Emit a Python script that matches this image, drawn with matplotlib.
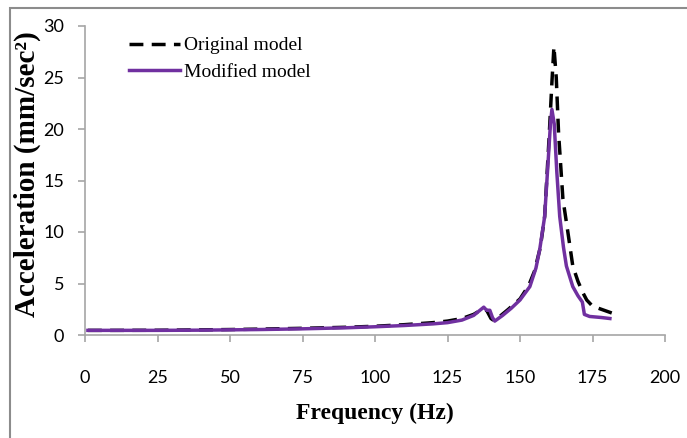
import matplotlib
matplotlib.use("Agg")
import matplotlib.pyplot as plt
from matplotlib.patches import Rectangle

# frequency (Hz) / acceleration (mm/sec^2)
orig_f = [1, 10, 25, 40, 50, 60, 75, 90, 100, 110, 120, 125, 130, 134, 137, 138.5, 140, 141,
          143, 146, 150, 153, 155, 157, 158.5, 160, 161, 161.7, 162.5, 163.3, 164.8, 166.5,
          168.2, 170, 171.7, 173, 175, 178, 182]
orig_a = [0.45, 0.45, 0.46, 0.5, 0.53, 0.57, 0.65, 0.75, 0.85, 1.0, 1.2, 1.35, 1.6, 2.0, 2.5,
          2.4, 1.6, 1.4, 1.8, 2.5, 3.5, 4.8, 6.2, 8.5, 11.5, 19.0, 24.5, 28.0, 25.0, 19.6, 13.2,
          10.0, 6.7, 5.2, 4.1, 3.4, 2.8, 2.5, 2.1]

mod_f = [1, 10, 25, 40, 50, 60, 75, 90, 100, 110, 120, 125, 130, 134, 137.5, 138.5, 139.6,
         140.5, 141.3, 144, 147, 150, 153.4, 155.5, 156.8, 158.5, 159.6, 160.5, 161, 161.8,
         162.7, 163.7, 165, 166, 168.2, 170, 171.5, 172.2, 174, 178, 181]
mod_a = [0.45, 0.45, 0.45, 0.47, 0.5, 0.53, 0.6, 0.7, 0.8, 0.92, 1.08, 1.2, 1.45, 1.9, 2.7,
         2.4, 2.4, 1.7, 1.35, 1.9, 2.6, 3.4, 4.7, 6.5, 8.3, 11.5, 16.4, 20.5, 21.9, 20.5, 15.8,
         11.5, 8.5, 6.7, 4.7, 3.8, 3.2, 2.0, 1.8, 1.7, 1.6]

xticks = [0, 25, 50, 75, 100, 125, 150, 175, 200]
yticks = [0, 5, 10, 15, 20, 25, 30]

fig = plt.figure(figsize=(6.87, 4.38), dpi=100)
# gray outer frame (only top and left edges fall inside the picture)
fig.patches.append(Rectangle((10 / 687, -0.1), 1.2, 1.1 - 8 / 438, transform=fig.transFigure,
                             fill=False, edgecolor="#8c8c8c", linewidth=1.5))
ax = fig.add_axes([85 / 687, 1 - 335 / 438, (665 - 85) / 687, (335 - 26) / 438])

ax.plot(orig_f, orig_a, color="black", linestyle=(0, (4, 2.4)), linewidth=2.5, label="Original model")
ax.plot(mod_f, mod_a, color="#7030a0", linewidth=2.5, label="Modified model")

ax.set_xlim(0, 200)
ax.set_ylim(0, 30)
ax.set_xticks(xticks)
ax.set_yticks(yticks)
for s in ["top", "right"]:
    ax.spines[s].set_visible(False)
for s in ["left", "bottom"]:
    ax.spines[s].set_color("#a6a6a6")
    ax.spines[s].set_linewidth(1.2)
ax.tick_params(axis="both", colors="#a6a6a6", length=5, width=1.2, direction="out")
ax.tick_params(axis="x", pad=20)
ax.tick_params(axis="y", pad=10)
for lab in ax.get_xticklabels() + ax.get_yticklabels():
    lab.set_color("black")
    lab.set_fontsize(13)
    lab.set_family(["Liberation Sans Narrow", "Lato", "DejaVu Sans"])

ax.set_xlabel("Frequency (Hz)", fontsize=17, fontweight="bold", family="Liberation Serif")
ax.xaxis.set_label_coords(0.5, -(403 - 335) / 309)
ax.set_ylabel("Acceleration (mm/sec²)", fontsize=21, fontweight="bold", family="Liberation Serif")
ax.yaxis.set_label_coords(-(85 - 41) / 580, 0.52)

ax.legend(loc="upper left", bbox_to_anchor=(0.063, 0.99), frameon=False, handlelength=2.6,
          handletextpad=0.2, labelspacing=0.45, borderaxespad=0.0,
          prop={"family": "Liberation Serif", "size": 14})

fig.savefig("out.png", dpi=100)
